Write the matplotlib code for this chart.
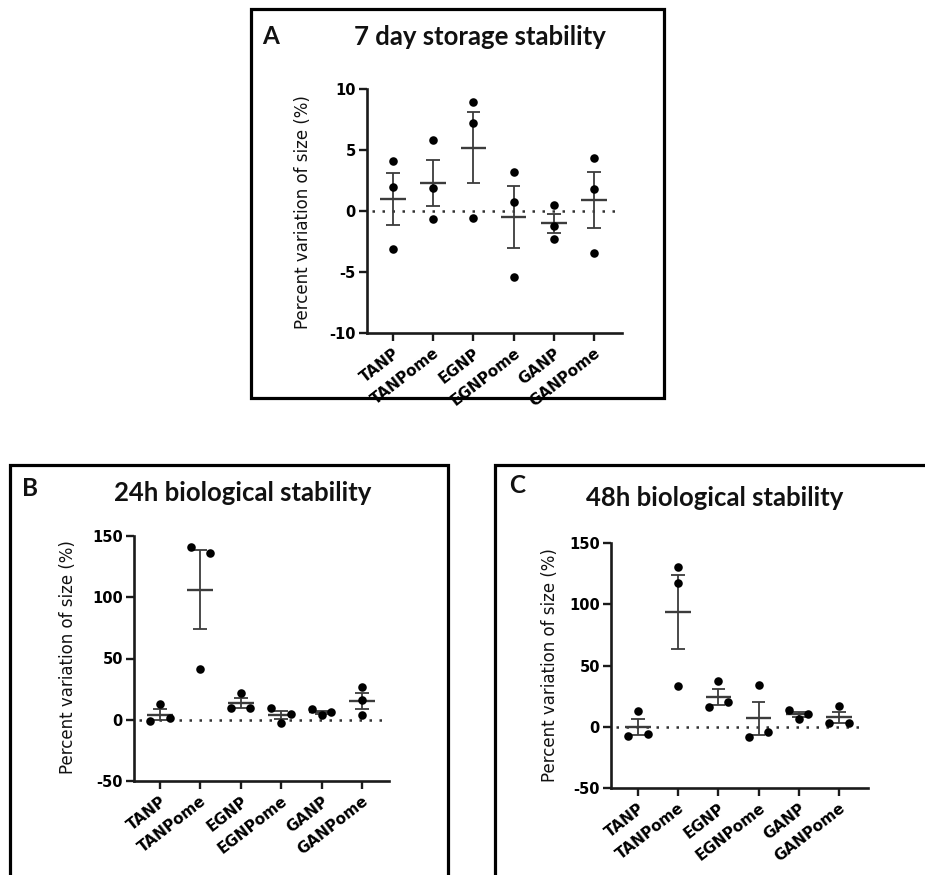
import numpy as np
import matplotlib
matplotlib.use("Agg")
import matplotlib.pyplot as plt
from matplotlib.patches import Rectangle

categories = ["TANP", "TANPome", "EGNP", "EGNPome", "GANP", "GANPome"]

storage_7d = [
    [4.06, 1.96, -3.13],
    [5.78, 1.88, -0.68],
    [8.90, 7.22, -0.54],
    [3.16, 0.74, -5.37],
    [0.46, -1.23, -2.26],
    [4.36, 1.83, -3.46],
]
bio_24h = [
    [12.8, -1.4, 1.4],
    [140.9, 136.2, 41.4],
    [21.8, 9.5, 9.5],
    [9.5, -2.7, 4.9],
    [8.5, 4.0, 6.0],
    [26.7, 15.8, 4.1],
]
bio_48h = [
    [13.1, -7.6, -6.0],
    [130.6, 117.0, 33.2],
    [37.0, 16.0, 20.0],
    [34.0, -8.6, -4.5],
    [13.6, 6.3, 10.4],
    [16.9, 3.0, 3.0],
]
yticks_a = [-10, -5, 0, 5, 10]
yticks_bc = [-50, 0, 50, 100, 150]

titles = ["7 day storage stability", "24h biological stability", "48h biological stability"]
letters = ["A", "B", "C"]
ylabel = "Percent variation of size (%)"

W, H = 925, 875
fig = plt.figure(figsize=(W / 100, H / 100), dpi=100)
fig.patch.set_facecolor("white")

def fx(x):
    return x / W

def fy(y):
    return 1 - y / H

LINE = "#3c3c3c"
TITLE_FONT = "Lato"


def add_box(x0, y0, x1, y1):
    fig.add_artist(Rectangle((fx(x0), fy(y1)), (x1 - x0) / W, (y1 - y0) / H,
                             transform=fig.transFigure, fill=False,
                             lw=2.3, ec="black", zorder=0))


def cluster_offsets(vals, thr, w=0.24):
    vals = np.asarray(vals, float)
    order = np.argsort(vals)
    clusters = [[order[0]]]
    for a, b in zip(order[:-1], order[1:]):
        if vals[b] - vals[a] < thr:
            clusters[-1].append(b)
        else:
            clusters.append([b])
    offs = np.zeros(len(vals))
    for c in clusters:
        c = sorted(c)
        n = len(c)
        if n > 1:
            pos = np.linspace(-w, w, n)
            for idx, p in zip(c, pos):
                offs[idx] = p
    return offs


def draw(rect_px, data, ylim, yticks, xlim):
    left, top, right, bottom = rect_px
    ax = fig.add_axes([fx(left), fy(bottom), (right - left) / W, (bottom - top) / H])
    ax.set_xlim(*xlim)
    ax.set_ylim(*ylim)
    px_per_unit = (bottom - top) / (ylim[1] - ylim[0])
    thr = 11.0 / px_per_unit
    ax.axhline(0, color="#333333", lw=1.8, ls=(0, (1, 3.0)), xmin=0.02, xmax=0.98, zorder=1)
    for i, vals in enumerate(data):
        vals = np.asarray(vals, float)
        offs = cluster_offsets(vals, thr)
        ax.scatter(i + offs, vals, s=38, color="black", zorder=4, linewidths=0)
        m = vals.mean()
        sem = vals.std(ddof=1) / np.sqrt(len(vals))
        ax.hlines(m, i - 0.32, i + 0.32, color=LINE, lw=1.7, zorder=3)
        ax.vlines(i, m - sem, m + sem, color=LINE, lw=1.3, zorder=3)
        ax.hlines([m - sem, m + sem], i - 0.17, i + 0.17, color=LINE, lw=1.3, zorder=3)
    for s in ("top", "right"):
        ax.spines[s].set_visible(False)
    for s in ("left", "bottom"):
        ax.spines[s].set_linewidth(1.9)
        ax.spines[s].set_color("#1a1a1a")
    ax.set_yticks(yticks)
    ax.set_yticklabels([str(t) for t in yticks], fontweight="bold", fontsize=10.5,
                       family="DejaVu Sans")
    ax.set_xticks(range(len(categories)))
    ax.set_xticklabels(categories, rotation=38, ha="right", rotation_mode="anchor",
                       fontweight="bold", fontsize=11, family="DejaVu Sans")
    ax.tick_params(axis="both", direction="out", length=6, width=1.7, color="#1a1a1a")
    ax.tick_params(axis="x", pad=3)
    ax.tick_params(axis="y", pad=2)
    ax.patch.set_alpha(0)
    return ax


# Panel boxes
add_box(251, 9, 664, 398)
add_box(10, 465, 448, 900)
add_box(495, 465, 960, 900)

# Axes
draw((367, 89, 622, 333), storage_7d, (-10, 10), yticks_a, (-0.65, 5.7))
draw((134, 536, 389, 781), bio_24h, (-50, 150), yticks_bc, (-0.64, 5.67))
draw((611, 543, 868, 788), bio_48h, (-50, 150), yticks_bc, (-0.67, 5.72))

# Titles and letters
title_pos = [(480, 37), (243, 493), (715, 498)]
letter_pos = [(262, 36), (22, 488), (509, 486)]
for t, (x, y) in zip(titles, title_pos):
    fig.text(fx(x), fy(y), t, ha="center", va="center", fontsize=18.5,
             fontweight="bold", family=TITLE_FONT, color="#111111")
for l, (x, y) in zip(letters, letter_pos):
    fig.text(fx(x), fy(y), l, ha="left", va="center", fontsize=17.5,
             fontweight="bold", family=TITLE_FONT, color="#111111")

# Y labels
ylab_pos = [(303, 212), (68, 657), (550, 665)]
for (x, y) in ylab_pos:
    fig.text(fx(x), fy(y), ylabel, ha="center", va="center", rotation=90,
             fontsize=12, family="DejaVu Sans", color="#111111")

fig.savefig("out.png", dpi=100, facecolor="white")
